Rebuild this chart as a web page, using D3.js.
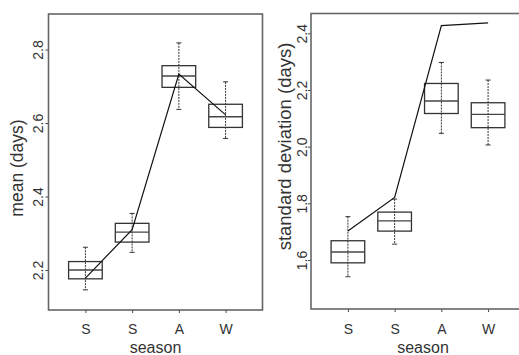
<!DOCTYPE html>
<html>
<head>
<meta charset="utf-8">
<script src="https://cdn.jsdelivr.net/npm/d3@7"></script>
<style>
  body { margin: 0; background: #fff; }
  svg { display: block; font-family: "Liberation Sans", Arial, sans-serif; }
</style>
</head>
<body>
<svg id="chart" width="519" height="355"></svg>
<script>
// categories
const seasons = ["S", "S", "A", "W"];

// left panel: mean (days)
const meanTicks = [2.2, 2.4, 2.6, 2.8];
const meanLo  = [2.146, 2.248, 2.637, 2.558];
const meanQ1  = [2.176, 2.276, 2.697, 2.588];
const meanMed = [2.200, 2.303, 2.728, 2.617];
const meanQ3  = [2.223, 2.327, 2.756, 2.651];
const meanHi  = [2.262, 2.354, 2.818, 2.712];
const meanLine = [2.178, 2.310, 2.733, 2.622];

// right panel: standard deviation (days)
const sdTicks = [1.6, 1.8, 2.0, 2.2, 2.4];
const sdLo  = [1.541, 1.656, 2.047, 2.006];
const sdQ1  = [1.590, 1.702, 2.117, 2.067];
const sdMed = [1.628, 1.738, 2.161, 2.114];
const sdQ3  = [1.668, 1.769, 2.223, 2.155];
const sdHi  = [1.753, 1.815, 2.297, 2.235];
const sdLine = [1.702, 1.821, 2.427, 2.437];

class BoxPanel {
    constructor(svg, config) {
        this.left = config.left;
        this.top = config.top;
        this.width = config.width;
        this.height = config.height;

        this.g = svg.append("g")
            .attr("transform", `translate(${this.left},${this.top})`);

        this.x = d3.scalePoint()
            .domain(d3.range(seasons.length))
            .range([0, this.width])
            .padding(0.79);

        this.y = d3.scaleLinear()
            .domain(config.domain)
            .range([this.height, 0]);

        this.drawAxes(config);
        this.drawBoxes(config.stats);
        this.drawLine(config.line);
        this.drawFrame();
    }

    drawAxes(config) {
        const yAxis = d3.axisLeft(this.y)
            .tickValues(config.ticks)
            .tickSize(3)
            .tickFormat(d3.format(".1f"));

        const gy = this.g.append("g").attr("class", "y axis").call(yAxis);
        gy.select(".domain").remove();
        gy.selectAll("line").attr("stroke", "#444");
        gy.selectAll("text")
            .attr("transform", `translate(${-config.tickLabelOffset},0) rotate(-90)`)
            .attr("x", 0).attr("y", 0).attr("dy", 0)
            .style("text-anchor", "middle")
            .style("font-size", "14px")
            .attr("fill", "#333");

        const xAxis = d3.axisBottom(this.x)
            .tickSize(3)
            .tickFormat(i => seasons[i]);

        const gx = this.g.append("g")
            .attr("class", "x axis")
            .attr("transform", `translate(0,${this.height})`)
            .call(xAxis);
        gx.select(".domain").remove();
        gx.selectAll("line").attr("stroke", "#444");
        gx.selectAll("text")
            .attr("y", 0).attr("dy", 0)
            .attr("transform", `translate(0,${334 - this.top - this.height})`)
            .style("font-size", "14px")
            .attr("fill", "#333");

        this.g.append("text")
            .attr("x", config.titleX)
            .attr("y", 352.5 - this.top)
            .attr("text-anchor", "middle")
            .style("font-size", "16px")
            .attr("fill", "#333")
            .text("season");

        this.g.append("text")
            .attr("transform", `translate(${config.yTitleX - this.left},${config.yTitleY - this.top}) rotate(-90)`)
            .attr("text-anchor", "middle")
            .style("font-size", config.yTitleSize)
            .attr("fill", "#333")
            .text(config.yTitle);
    }

    drawBoxes(stats) {
        const bw = this.x.step() * 0.72;
        const cap = 2.5;
        seasons.forEach((s, i) => {
            const cx = this.x(i);
            const g = this.g.append("g").attr("class", "box");

            g.append("line")
                .attr("x1", cx).attr("x2", cx)
                .attr("y1", this.y(stats.hi[i])).attr("y2", this.y(stats.lo[i]))
                .attr("stroke", "#333").attr("stroke-width", 1)
                .attr("stroke-dasharray", "2,1");

            [stats.hi[i], stats.lo[i]].forEach(v => {
                g.append("line")
                    .attr("x1", cx - cap).attr("x2", cx + cap)
                    .attr("y1", this.y(v)).attr("y2", this.y(v))
                    .attr("stroke", "#333").attr("stroke-width", 1);
            });

            g.append("rect")
                .attr("x", cx - bw / 2)
                .attr("y", this.y(stats.q3[i]))
                .attr("width", bw)
                .attr("height", this.y(stats.q1[i]) - this.y(stats.q3[i]))
                .attr("fill", "none")
                .attr("stroke", "#333")
                .attr("stroke-width", 1.3);

            g.append("line")
                .attr("x1", cx - bw / 2).attr("x2", cx + bw / 2)
                .attr("y1", this.y(stats.med[i])).attr("y2", this.y(stats.med[i]))
                .attr("stroke", "#444").attr("stroke-width", 1.4);
        });
    }

    drawLine(values) {
        const line = d3.line()
            .x((d, i) => this.x(i))
            .y(d => this.y(d));

        this.g.append("path")
            .datum(values)
            .attr("fill", "none")
            .attr("stroke", "#111")
            .attr("stroke-width", 1.2)
            .attr("d", line);
    }

    drawFrame() {
        this.g.append("rect")
            .attr("width", this.width)
            .attr("height", this.height)
            .attr("fill", "none")
            .attr("stroke", "#666")
            .attr("stroke-width", 1.6);
    }
}

const svg = d3.select("#chart");

new BoxPanel(svg, {
    left: 48.5, top: 14, width: 214, height: 296,
    domain: [2.0912, 2.8966],
    ticks: meanTicks,
    tickLabelOffset: 6,
    titleX: 107,
    yTitle: "mean (days)", yTitleX: 23, yTitleY: 168, yTitleSize: "17.5px",
    stats: { lo: meanLo, q1: meanQ1, med: meanMed, q3: meanQ3, hi: meanHi },
    line: meanLine
});

new BoxPanel(svg, {
    left: 311, top: 13.5, width: 214, height: 295.5,
    domain: [1.4271, 2.4699],
    ticks: sdTicks,
    tickLabelOffset: 4,
    titleX: 112,
    yTitle: "standard deviation (days)", yTitleX: 290.5, yTitleY: 146.5, yTitleSize: "18.5px",
    stats: { lo: sdLo, q1: sdQ1, med: sdMed, q3: sdQ3, hi: sdHi },
    line: sdLine
});
</script>
</body>
</html>
